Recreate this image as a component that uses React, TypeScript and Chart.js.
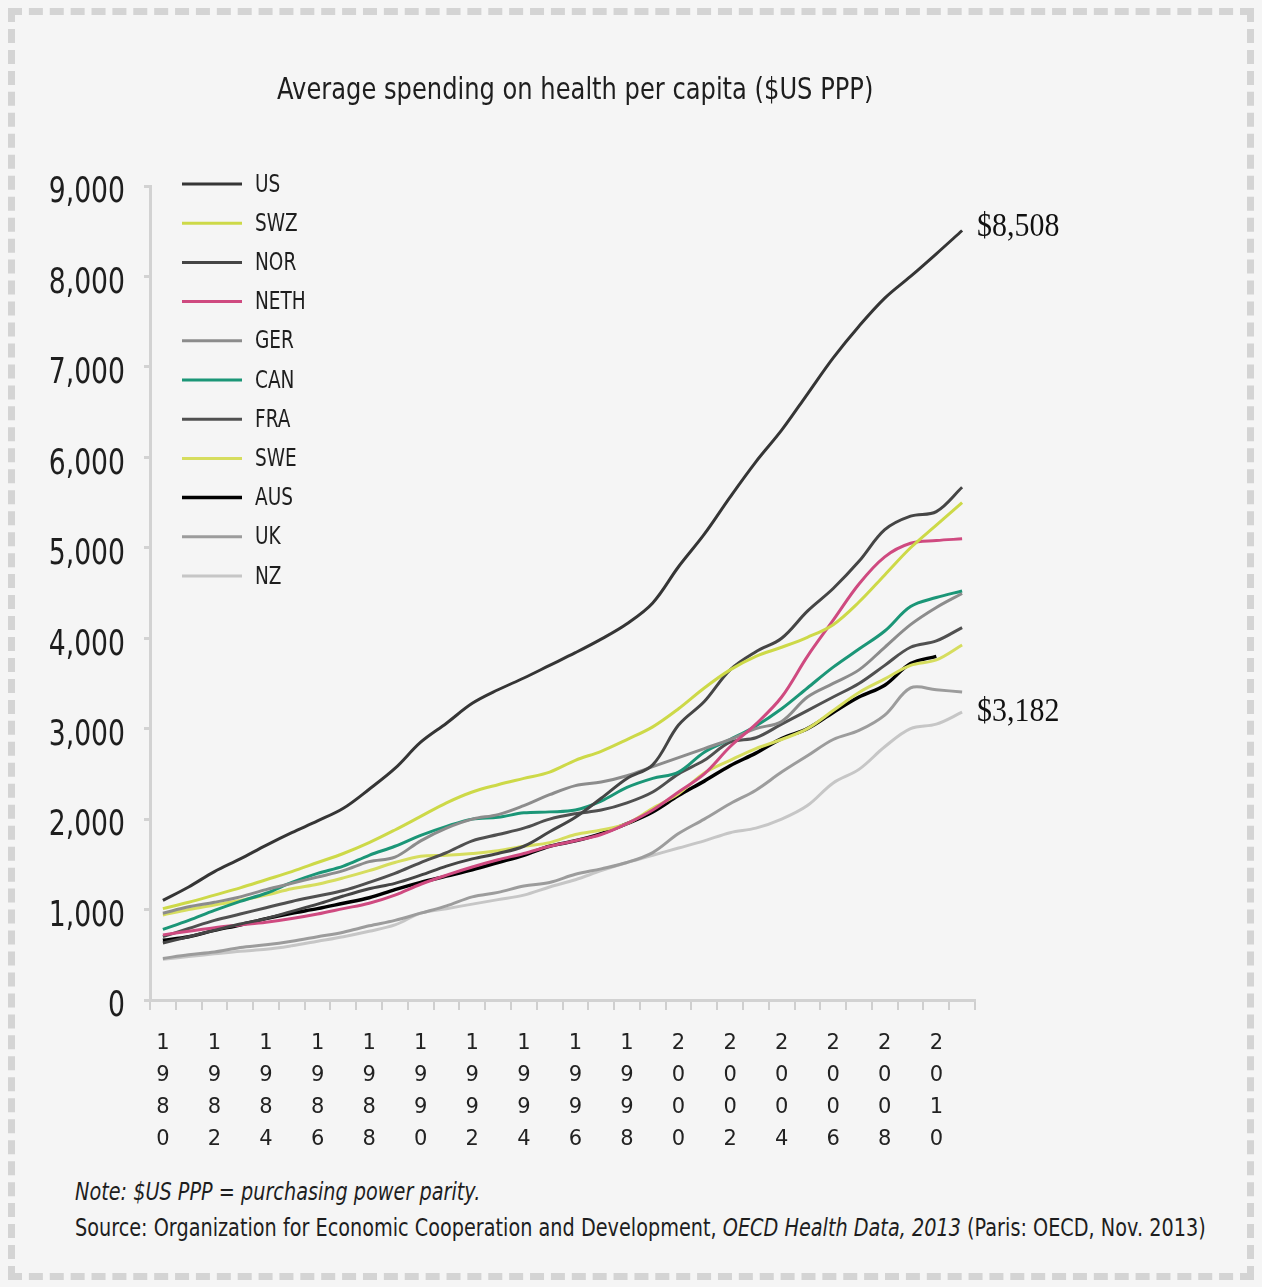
import React, { useEffect, useRef } from 'react';
import { Chart, registerables } from 'chart.js';

Chart.register(...registerables);

const years = ['1980','1981','1982','1983','1984','1985','1986','1987','1988','1989','1990','1991','1992','1993','1994','1995','1996','1997','1998','1999','2000','2001','2002','2003','2004','2005','2006','2007','2008','2009','2010','2011'];

const us   = [1102,1250,1420,1560,1710,1850,1980,2120,2330,2560,2850,3060,3280,3430,3560,3700,3840,3990,4160,4390,4790,5150,5560,5950,6300,6700,7100,7450,7760,8000,8250,8508];
const swz  = [1010,1080,1160,1240,1330,1420,1520,1620,1740,1880,2030,2180,2300,2380,2450,2520,2650,2750,2880,3020,3220,3450,3650,3800,3900,4010,4150,4400,4700,5000,5250,5500];
const nor  = [630,700,770,840,900,980,1060,1150,1230,1290,1380,1480,1560,1620,1700,1860,2020,2230,2450,2600,3040,3300,3650,3850,4000,4300,4550,4850,5200,5350,5400,5669];
const neth = [720,760,800,830,860,900,950,1010,1070,1160,1280,1380,1470,1550,1620,1700,1760,1830,1950,2100,2300,2500,2800,3050,3350,3800,4200,4600,4900,5050,5080,5099];
const ger  = [960,1030,1080,1140,1220,1290,1360,1430,1530,1580,1760,1900,2000,2050,2150,2270,2370,2410,2480,2580,2680,2780,2880,3000,3080,3350,3500,3650,3900,4150,4340,4495];
const can  = [780,880,990,1090,1180,1300,1400,1480,1600,1700,1820,1920,2000,2020,2070,2080,2100,2200,2350,2450,2520,2740,2880,3030,3220,3450,3680,3880,4080,4350,4450,4522];
const fra  = [700,790,880,950,1020,1090,1150,1210,1300,1400,1520,1630,1760,1830,1900,2000,2060,2100,2180,2300,2500,2650,2850,2900,3050,3200,3350,3500,3700,3900,3970,4118];
const swe  = [940,1000,1050,1100,1160,1230,1280,1350,1430,1520,1590,1600,1620,1650,1700,1740,1830,1880,1950,2120,2280,2510,2650,2780,2880,3000,3200,3400,3550,3700,3760,3925];
const aus  = [660,700,770,830,900,960,1010,1070,1130,1220,1300,1370,1440,1520,1600,1700,1760,1840,1950,2080,2260,2420,2590,2730,2890,3000,3180,3350,3480,3720,3800,null];
const uk   = [460,500,530,580,610,650,700,750,820,880,960,1040,1140,1190,1260,1300,1390,1450,1520,1630,1840,2000,2170,2320,2520,2700,2880,2980,3150,3450,3430,3405];
const nz   = [450,480,510,540,560,600,650,700,760,830,960,1010,1060,1110,1160,1250,1330,1430,1520,1600,1680,1760,1850,1900,2000,2150,2400,2550,2800,3000,3050,3182];

const seriesNames = ['US','SWZ','NOR','NETH','GER','CAN','FRA','SWE','AUS','UK','NZ'];
const seriesData = [us, swz, nor, neth, ger, can, fra, swe, aus, uk, nz];
const seriesColors = ['#353535','#cdd948','#454545','#cf4a80','#8c8c8c','#1b9677','#505050','#d6dd5e','#000000','#9c9c9c','#c6c6c6'];
const seriesWidths = [3,3,3,3,3,3,3,3,3.5,3,3];

const yMax = 9000;
const yStep = 1000;

const SANS = "'DejaVu Sans', sans-serif";
const SERIF = "'Liberation Serif', 'DejaVu Serif', serif";

function drawNarrow(ctx: any, text: string, x: number, y: number, font: string, sx: number, align: string) {
  ctx.save();
  ctx.translate(x, y);
  ctx.scale(sx, 1);
  ctx.font = font;
  ctx.textAlign = align;
  ctx.textBaseline = 'middle';
  ctx.fillText(text, 0, 0);
  ctx.restore();
}

const legendPlugin = {
  id: 'customLegend',
  afterDatasetsDraw(chart: any) {
    const ctx = chart.ctx;
    ctx.save();
    chart.data.datasets.forEach((ds: any, i: number) => {
      const y = 184 + i * 39.2;
      ctx.strokeStyle = ds.borderColor;
      ctx.lineWidth = ds.borderWidth;
      ctx.beginPath();
      ctx.moveTo(182, y);
      ctx.lineTo(242, y);
      ctx.stroke();
      ctx.fillStyle = '#1e1e1e';
      drawNarrow(ctx, ds.label, 255, y + 1, `25px ${SANS}`, 0.74, 'left');
    });
    ctx.restore();
  },
};

const yLabelPlugin = {
  id: 'yLabels',
  afterDraw(chart: any) {
    const ctx = chart.ctx;
    const ys = chart.scales.y;
    ctx.save();
    ctx.fillStyle = '#1e1e1e';
    ys.ticks.forEach((t: any) => {
      const y = ys.getPixelForValue(t.value);
      drawNarrow(ctx, Number(t.value).toLocaleString('en-US'), 125, y + 7, `36px ${SANS}`, 0.74, 'right');
    });
    ctx.restore();
  },
};

const endLabelPlugin = {
  id: 'endLabels',
  afterDatasetsDraw(chart: any) {
    const ctx = chart.ctx;
    const xs = chart.scales.x;
    const ys = chart.scales.y;
    const lastIdx = years.length - 1;
    const items = [
      { v: us[lastIdx] as number, dy: -3 },
      { v: nz[lastIdx] as number, dy: 0 },
    ];
    ctx.save();
    ctx.fillStyle = '#111';
    items.forEach((it) => {
      const x = xs.getPixelForValue(lastIdx) + 15;
      const y = ys.getPixelForValue(it.v) + it.dy;
      drawNarrow(ctx, '$' + it.v.toLocaleString('en-US'), x, y, `34px ${SERIF}`, 0.88, 'left');
    });
    ctx.restore();
  },
};

export default function App() {
  const ref = useRef<HTMLCanvasElement | null>(null);

  useEffect(() => {
    if (!ref.current) return;
    const chart = new Chart(ref.current, {
      type: 'line',
      data: {
        labels: years,
        datasets: seriesNames.map((name, i) => ({
          label: name,
          data: seriesData[i],
          borderColor: seriesColors[i],
          backgroundColor: seriesColors[i],
          borderWidth: seriesWidths[i],
          pointRadius: 0,
          tension: 0.35,
          fill: false,
        })),
      },
      options: {
        animation: false,
        responsive: false,
        maintainAspectRatio: false,
        layout: { padding: { left: 0, right: 287, top: 186, bottom: 0 } },
        plugins: {
          legend: { display: false },
          title: { display: false },
          tooltip: { enabled: false },
        },
        scales: {
          x: {
            type: 'category',
            offset: true,
            grid: {
              display: true,
              drawOnChartArea: false,
              drawTicks: true,
              tickLength: 10,
              color: '#cfcfcf',
              lineWidth: 2,
              offset: true,
            },
            border: { display: true, color: '#d2d2d2', width: 3 },
            ticks: {
              autoSkip: false,
              maxRotation: 0,
              minRotation: 0,
              padding: 18,
              color: '#222',
              font: { family: SANS, size: 21, lineHeight: 1.52 },
              callback: (_v: any, idx: number) => (idx % 2 === 0 ? years[idx].split('') : ''),
            },
            afterFit: (s: any) => { s.height = 170; },
          },
          y: {
            min: 0,
            max: yMax,
            grid: {
              display: true,
              drawOnChartArea: false,
              drawTicks: true,
              tickLength: 6,
              color: '#d2d2d2',
              lineWidth: 3,
            },
            border: { display: true, color: '#d2d2d2', width: 3 },
            ticks: {
              stepSize: yStep,
              display: false,
            },
            afterFit: (s: any) => { s.width = 150; },
          },
        },
      },
      plugins: [legendPlugin, yLabelPlugin, endLabelPlugin],
    });
    return () => chart.destroy();
  }, []);

  const narrowText: React.CSSProperties = {
    position: 'absolute',
    whiteSpace: 'nowrap',
    transformOrigin: 'left center',
  };

  return (
    <div
      style={{
        position: 'absolute',
        left: 0,
        top: 0,
        width: 1262,
        height: 1287,
        background: '#f5f5f5',
        overflow: 'hidden',
        fontFamily: SANS,
        color: '#1e1e1e',
      }}
    >
      <div
        style={{
          position: 'absolute',
          left: 8,
          top: 8,
          width: 1246,
          height: 1272,
          border: '7px dashed #d4d4d4',
          boxSizing: 'border-box',
        }}
      />
      <canvas ref={ref} width={1262} height={1170} style={{ position: 'absolute', left: 0, top: 0 }} />
      <div style={{ ...narrowText, left: 277, top: 68, fontSize: 31, lineHeight: '40px', transform: 'scaleX(0.78)' }}>
        Average spending on health per capita ($US PPP)
      </div>
      <div style={{ ...narrowText, left: 75, top: 1176, fontSize: 25, lineHeight: '32px', fontStyle: 'italic', transform: 'scaleX(0.77)' }}>
        Note: $US PPP = purchasing power parity.
      </div>
      <div style={{ ...narrowText, left: 75, top: 1212, fontSize: 25, lineHeight: '32px', transform: 'scaleX(0.77)' }}>
        Source: Organization for Economic Cooperation and Development, <i>OECD Health Data, 2013</i> (Paris: OECD, Nov. 2013)
      </div>
    </div>
  );
}
